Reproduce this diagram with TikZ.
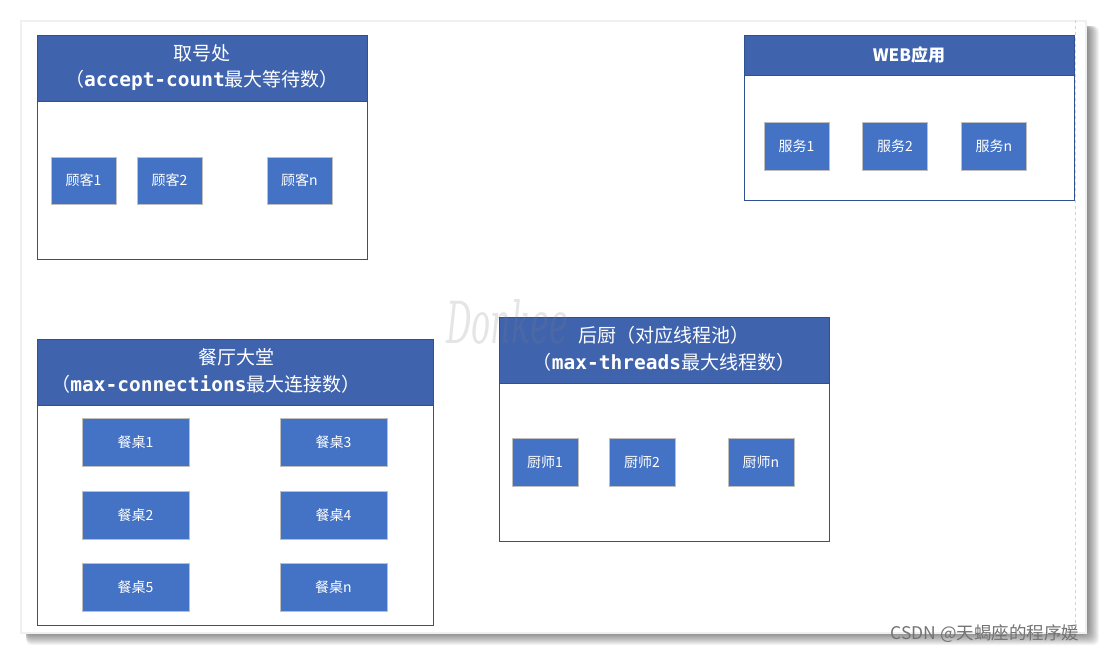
\documentclass[tikz,border=0pt]{standalone}
\usepackage{fontspec}
\setmainfont{Noto Sans CJK SC}
\setmonofont{DejaVu Sans Mono}
\newfontfamily\wmfont{DejaVu Serif}
\definecolor{hdrblue}{HTML}{3F63AD}
\definecolor{edgeblue}{HTML}{2F528F}
\definecolor{itemblue}{HTML}{4472C4}
\definecolor{itemedge}{HTML}{BFBFBF}
\tikzset{
  panel/.style={fill=white, draw=gray!12, line width=1.5pt},
  grp/.style={draw=edgeblue, fill=white, line width=0.9pt, inner sep=0pt},
  hdr/.style={draw=edgeblue, fill=hdrblue, line width=0.9pt, inner sep=0pt},
  ttl/.style={text=white, font=\fontsize{19}{22}\selectfont, inner sep=0pt},
  item/.style={draw=itemedge, fill=itemblue, line width=0.9pt, text=white,
    font=\fontsize{14}{16}\selectfont, inner sep=0pt},
}
\newcommand{\mc}[1]{{\fontsize{19.5}{22}\ttfamily\bfseries #1}}
\begin{document}
\begin{tikzpicture}[x=1pt, y=-1pt]
\useasboundingbox (0,0) rectangle (1107,654);
\fill[white] (0,0) rectangle (1107,654);
% shadow
\foreach \i in {1,...,14}{
  \fill[black, opacity=0.045, rounded corners=6pt] (26,26) rectangle (1085+\i, 631+\i);
}
\node[panel, minimum width=1065pt, minimum height=612pt, anchor=north west] (panel) at (20,20) {};
\draw[gray!35, dashed, line width=0.5pt] (1075,20) -- (1075,632);

% group 1: 取号处
\node[grp, minimum width=330pt, minimum height=224pt] (g1) at (202,147) {};
\node[hdr, minimum width=330pt, minimum height=66pt] (h1) at (202,68) {};
\node[ttl] (t1a) at (202,53) {取号处};
\node[ttl] (t1b) at (202,80) {（\mc{accept-count}最大等待数）};
\node[item, minimum width=65pt, minimum height=47pt] (c1) at (83.5,180.5) {顾客1};
\node[item, minimum width=65pt, minimum height=47pt] (c2) at (169.5,180.5) {顾客2};
\node[item, minimum width=65pt, minimum height=47pt] (cn) at (299.5,180.5) {顾客n};

% group 2: WEB应用
\node[grp, minimum width=330pt, minimum height=165pt] (g2) at (909,117.5) {};
\node[hdr, minimum width=330pt, minimum height=40pt] (h2) at (909,55) {};
\node[ttl, font=\fontsize{17}{20}\selectfont\bfseries] (t2) at (909,55) {WEB应用};
\node[item, minimum width=65pt, minimum height=48pt] (s1) at (796.5,146) {服务1};
\node[item, minimum width=65pt, minimum height=48pt] (s2) at (895,146) {服务2};
\node[item, minimum width=65pt, minimum height=48pt] (sn) at (994,146) {服务n};

% group 3: 餐厅大堂
\node[grp, minimum width=396pt, minimum height=286pt] (g3) at (235,482) {};
\node[hdr, minimum width=396pt, minimum height=66pt] (h3) at (235,372) {};
\node[ttl] (t3a) at (236,357) {餐厅大堂};
\node[ttl] (t3b) at (206,384) {（\mc{max-connections}最大连接数）};
\node[item, minimum width=107pt, minimum height=48pt] (d1) at (135.5,442) {餐桌1};
\node[item, minimum width=107pt, minimum height=48pt] (d3) at (333.5,442) {餐桌3};
\node[item, minimum width=107pt, minimum height=48pt] (d2) at (135.5,515) {餐桌2};
\node[item, minimum width=107pt, minimum height=48pt] (d4) at (333.5,515) {餐桌4};
\node[item, minimum width=107pt, minimum height=48pt] (d5) at (135.5,587) {餐桌5};
\node[item, minimum width=107pt, minimum height=48pt] (dn) at (333.5,587) {餐桌n};

% group 4: 后厨
\node[grp, minimum width=330pt, minimum height=224pt] (g4) at (664,429) {};
\node[hdr, minimum width=330pt, minimum height=66pt] (h4) at (664,350) {};
\node[ttl] (t4a) at (664,335) {后厨（对应线程池）};
\node[ttl] (t4b) at (664,362) {（\mc{max-threads}最大线程数）};
\node[item, minimum width=66pt, minimum height=48pt] (k1) at (545,462) {厨师1};
\node[item, minimum width=66pt, minimum height=48pt] (k2) at (642,462) {厨师2};
\node[item, minimum width=66pt, minimum height=48pt] (kn) at (761,462) {厨师n};

% watermarks
\node[text=gray, opacity=0.2, font=\wmfont\itshape\fontsize{58}{58}\selectfont, inner sep=0pt, xscale=0.55, anchor=west] (wm) at (446,322) {Donkee};
\node[text=black!55, font=\fontsize{17.5}{20}\selectfont, inner sep=0pt] (csdn) at (985,634) {CSDN @天蝎座的程序媛};
\end{tikzpicture}
\end{document}
